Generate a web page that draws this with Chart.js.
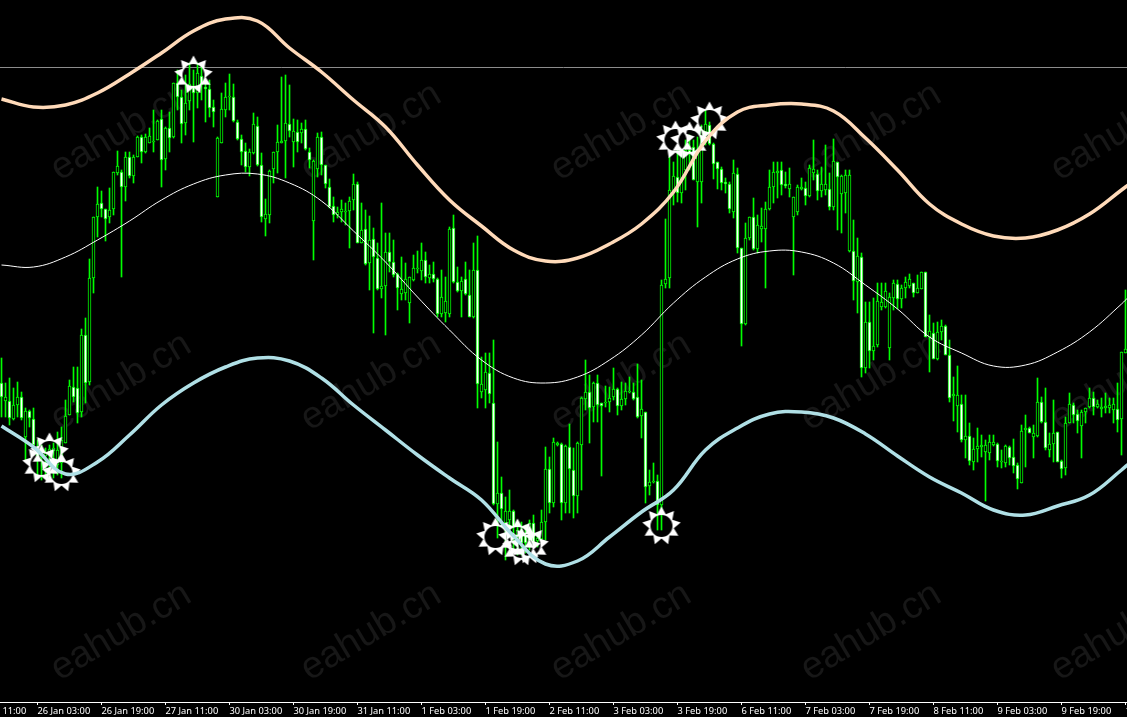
<!DOCTYPE html>
<html>
<head>
<meta charset="utf-8">
<title>eahub.cn</title>
<script src="https://cdn.jsdelivr.net/npm/chart.js@4"></script>
<style>
  html, body { margin: 0; padding: 0; background: #000; overflow: hidden; }
  canvas { display: block; }
</style>
</head>
<body>
<canvas id="grafico" width="1127" height="717"></canvas>
<script>
// Velas en puntos de precio (una por hora)
const highs = [
  344,319,324,314,320,310,294,292,294,262, 257,254,257,259,270,275,302,322,335,335,
  373,384,443,485,515,511,493,514,530,551, 532,550,550,547,566,567,568,574,592,582,
  592,575,590,619,632,612,627,639,632,639, 639,622,622,602,565,609,619,628,618,582,
  567,559,553,589,585,549,503,532,550,577, 625,627,617,583,582,579,582,554,542,569,
  570,537,523,505,495,502,499,505,528,520, 499,492,486,474,459,499,469,469,462,429,
  445,439,425,447,451,459,450,437,440,424, 432,425,475,487,435,425,440,432,459,466,
  345,349,349,362,260,225,205,212,192,177, 180,177,182,187,167,192,255,245,264,260,
  259,257,278,254,260,305,342,327,320,327, 299,316,315,334,314,320,319,325,319,338,
  322,290,232,239,227,422,483,545,540,555, 552,562,567,562,565,577,592,580,559,540,
  535,524,520,542,534,454,479,485,504,487, 494,500,532,540,540,540,530,534,505,517,
  524,520,537,562,532,535,557,529,563,540, 527,532,532,482,464,449,400,400,404,419,
  419,419,409,422,422,417,425,428,419,427, 430,430,387,379,380,382,377,362,325,336,
  307,307,279,264,274,267,262,267,267,259, 252,257,256,263,239,277,287,275,277,324,
  305,314,269,302,270,242,285,309,299,292, 292,294,314,310,302,304,309,304,304,319,
  350,412
];
const lows = [
  285,285,277,282,285,282,242,275,255,224, 222,226,222,224,227,224,259,287,300,279,
  285,299,317,409,465,485,461,479,487,527, 425,501,524,519,545,539,549,559,550,562,
  515,532,550,564,592,559,567,592,560,594, 602,580,585,575,505,559,585,592,580,562,
  537,530,526,548,536,480,466,479,519,529, 559,524,565,535,550,559,552,534,442,525,
  527,514,494,480,484,480,477,454,492,459, 459,437,412,369,412,404,367,430,425,392,
  402,402,379,421,429,422,419,419,420,385, 385,380,385,419,410,385,407,385,384,294,
  304,294,299,197,164,175,142,165,152,147, 147,149,152,155,155,162,162,189,195,256,
  182,189,189,184,189,212,292,259,280,280, 226,295,290,302,287,292,297,309,302,284,
  264,199,207,219,172,172,414,414,497,500, 499,512,532,522,475,499,557,557,523,513,
  512,509,489,484,449,356,377,462,452,449, 460,414,492,499,504,507,514,505,427,487,
  512,497,505,522,502,505,507,492,492,472, 469,489,450,402,389,325,329,334,342,355,
  392,394,342,392,393,394,404,414,405,409, 413,365,330,343,342,362,347,300,281,270,
  260,244,237,232,240,245,201,242,256,235, 234,235,237,229,213,219,235,269,244,265,
  279,252,245,240,240,224,227,279,279,269, 244,279,294,287,294,285,289,289,279,270,
  247,349
];
const opens = [
  319,301,301,283,297,305,265,291,283,253, 244,246,247,251,237,239,259,287,315,314,
  290,367,320,424,485,499,493,485,493,529, 530,515,545,526,545,565,550,559,560,562,
  583,543,574,565,619,605,579,601,616,609, 626,615,613,595,505,559,592,605,605,580,
  563,551,535,549,576,537,483,487,533,550, 559,561,578,560,570,569,573,550,481,533,
  565,537,515,496,487,490,490,491,502,518, 459,473,439,463,444,413,416,450,440,428,
  408,409,399,422,433,431,442,424,428,423, 388,389,388,474,420,411,423,407,385,432,
  310,312,329,299,198,209,179,182,191,167, 172,167,162,179,161,163,180,233,199,257,
  258,199,255,232,206,257,303,310,295,319, 299,299,300,305,313,296,303,310,310,305,
  286,290,216,220,221,197,418,424,511,525, 509,532,552,555,520,520,570,577,558,540,
  533,520,518,490,528,454,378,464,485,453, 473,473,493,515,529,532,518,513,485,490,
  513,514,506,529,528,511,512,513,495,540, 508,509,451,451,420,445,334,380,351,357,
  395,395,354,404,418,403,414,416,419,409, 413,430,365,369,343,370,376,347,306,296,
  298,262,266,240,253,255,250,249,257,258, 240,239,255,245,237,219,272,274,265,266,
  300,280,252,258,270,241,234,279,297,288, 276,290,295,304,295,293,294,294,292,293,
  283,349
];
const closes = [
  305,305,284,297,305,284,291,284,257,246, 250,250,253,254,252,262,286,316,305,289,
  367,319,424,485,498,493,483,492,530,536, 515,545,526,545,565,550,565,566,561,581,
  542,574,564,619,605,578,599,618,609,629, 617,613,594,590,564,593,605,606,581,563,
  550,535,550,578,537,485,488,531,550,560, 561,579,571,571,560,573,553,542,541,565,
  537,518,495,487,490,493,491,501,518,459, 472,438,462,445,413,416,450,440,427,414,
  413,423,425,434,434,442,425,428,423,388, 405,401,473,420,411,421,408,385,432,318,
  318,330,308,198,209,193,191,191,175,172, 159,159,179,159,164,180,233,199,260,259,
  199,256,233,206,259,304,310,294,319,297, 296,300,304,313,296,303,311,311,303,285,
  293,215,220,221,197,417,423,512,526,509, 552,552,549,522,550,572,578,558,538,533,
  519,518,493,529,454,378,464,485,453,477, 476,493,515,530,531,517,516,518,505,515,
  515,506,534,533,511,518,518,495,541,525, 526,527,527,421,446,334,380,351,356,401,
  400,411,405,419,403,414,420,423,409,414, 430,365,371,343,370,376,347,304,308,307,
  262,266,241,253,256,257,257,260,260,241, 241,256,244,236,223,271,274,269,269,300,
  280,254,258,269,240,233,279,298,287,281, 290,294,304,295,298,295,296,297,298,282,
  350,353
];

// Bandas, una lectura cada 8 velas
const bandaBarras = [0,8,16,24,32,40,48,56,64,72,80,88,96,104,112,120,128,136,144,152,160,168,176,184,192,200,208,216,224,232,240,248,256,264,272,280,282];
const bandaSuperior = [603,595,597,609,628,649,671,683,681,654,630,602,575,537,502,476,452,441,444,458,478,510,561,590,597,598,591,564,532,498,478,466,464,472,488,512,518];
const bandaMedia = [437,435,445,462,481,502,518,527,528,519,501,471,440,405,372,342,324,319,325,342,367,399,425,443,451,450,439,417,393,365,349,336,337,350,370,398,406];
const bandaInferior = [276,255,228,240,267,297,319,335,344,341,324,297,272,247,224,202,166,138,141,165,190,212,252,274,288,290,284,268,246,225,209,192,187,196,207,232,239];

// Señales (sol blanco)
const senalBarras = [10,12,15,48,123.5,129,130,132,165,168.5,172,177];
const senalPrecios = [238,250,229,627,165,164,155,157,176,562,561,581];

// Línea horizontal de precio
const precioLinea = 634.5;

// Eje de tiempo
const tickBarras = [-7,9,25,41,57,73,89,105,121,137,153,169,185,201,217,233,249,265,281];
const tickEtiquetas = ['25 Jan 11:00','26 Jan 03:00','26 Jan 19:00','27 Jan 11:00','30 Jan 03:00','30 Jan 19:00','31 Jan 11:00','1 Feb 03:00','1 Feb 19:00','2 Feb 11:00','3 Feb 03:00','3 Feb 19:00','6 Feb 11:00','7 Feb 03:00','7 Feb 19:00','8 Feb 11:00','9 Feb 03:00','9 Feb 19:00','10 Feb 11:00'];

const verde = '#00ff00';
const xMin = -0.375;
const xMax = 281.375;

// Sol: estrella de 9 puntas con el centro transparente
function crearSol() {
  const c = document.createElement('canvas');
  c.width = 40;
  c.height = 40;
  const g = c.getContext('2d');
  g.fillStyle = '#fff';
  g.beginPath();
  for (let i = 0; i < 18; i++) {
    const r = i % 2 === 0 ? 19.5 : 12.5;
    const a = i * Math.PI / 9 - Math.PI / 2;
    g.lineTo(20 + r * Math.cos(a), 20 + r * Math.sin(a));
  }
  g.closePath();
  g.fill();
  g.globalCompositeOperation = 'destination-out';
  g.beginPath();
  g.arc(20, 20, 11, 0, Math.PI * 2);
  g.fill();
  return c;
}

// Marca de agua por debajo de las velas
const marcaAgua = {
  id: 'marcaAgua',
  beforeDatasetsDraw(chart) {
    const ctx = chart.ctx;
    ctx.save();
    ctx.fillStyle = '#171717';
    ctx.font = '38px "Liberation Sans"';
    ctx.textAlign = 'center';
    ctx.textBaseline = 'middle';
    for (let fila = 0; fila < 3; fila++) {
      for (let col = 0; col < 5; col++) {
        ctx.save();
        ctx.translate(121 + col * 250, 132 + fila * 250);
        ctx.rotate(-31 * Math.PI / 180);
        ctx.fillText('eahub.cn', 0, 0);
        ctx.restore();
      }
    }
    ctx.restore();
  }
};

function banda(label, valores, color, ancho) {
  return {
    type: 'line',
    label: label,
    data: bandaBarras.map((b, i) => ({ x: b, y: valores[i] })),
    borderColor: color,
    borderWidth: ancho,
    pointRadius: 0,
    tension: 0.4,
    order: 0
  };
}

const grafico = new Chart(document.getElementById('grafico').getContext('2d'), {
  data: {
    datasets: [
      banda('Banda superior', bandaSuperior, '#ffdab9', 3.5),
      banda('Banda media', bandaMedia, '#ffffff', 1),
      banda('Banda inferior', bandaInferior, '#b0e0e6', 3.5),
      {
        type: 'line',
        label: 'Precio',
        data: [{ x: xMin, y: precioLinea }, { x: xMax, y: precioLinea }],
        borderColor: '#8c8c8c',
        borderWidth: 1,
        pointRadius: 0,
        order: 4
      },
      {
        type: 'line',
        label: 'Señales',
        data: senalBarras.map((b, i) => ({ x: b, y: senalPrecios[i] })),
        showLine: false,
        pointStyle: crearSol(),
        pointRadius: 20,
        order: 1
      },
      {
        type: 'bar',
        label: 'Cuerpo',
        data: opens.map((o, i) => ({ x: i, y: [o, closes[i]] })),
        grouped: false,
        barThickness: 3,
        borderWidth: 1,
        borderSkipped: false,
        borderColor: verde,
        backgroundColor: opens.map((o, i) => closes[i] > o ? '#000000' : '#ffffff'),
        order: 2
      },
      {
        type: 'bar',
        label: 'Mecha',
        data: highs.map((h, i) => ({ x: i, y: [lows[i], h] })),
        grouped: false,
        barThickness: 1,
        borderWidth: 0,
        backgroundColor: verde,
        order: 3
      }
    ]
  },
  plugins: [marcaAgua],
  options: {
    responsive: false,
    animation: false,
    layout: { padding: 0, autoPadding: false },
    plugins: {
      legend: { display: false },
      tooltip: { enabled: false }
    },
    scales: {
      x: {
        type: 'linear',
        position: 'bottom',
        offset: false,
        min: xMin,
        max: xMax,
        afterBuildTicks(scale) {
          scale.ticks = tickBarras.map(v => ({ value: v }));
        },
        afterFit(scale) {
          scale.height = 15;
          scale.paddingLeft = 0;
          scale.paddingRight = 0;
        },
        grid: { offset: false, drawOnChartArea: false, tickLength: 3, color: '#ffffff' },
        border: { color: '#ffffff' },
        ticks: {
          autoSkip: false,
          maxRotation: 0,
          align: 'start',
          padding: 1,
          color: '#ffffff',
          font: { family: '"Noto Sans"', size: 9.3 },
          callback: (v, i) => tickEtiquetas[i]
        }
      },
      y: {
        display: false,
        min: 0,
        max: 702
      }
    }
  }
});
</script>
</body>
</html>
